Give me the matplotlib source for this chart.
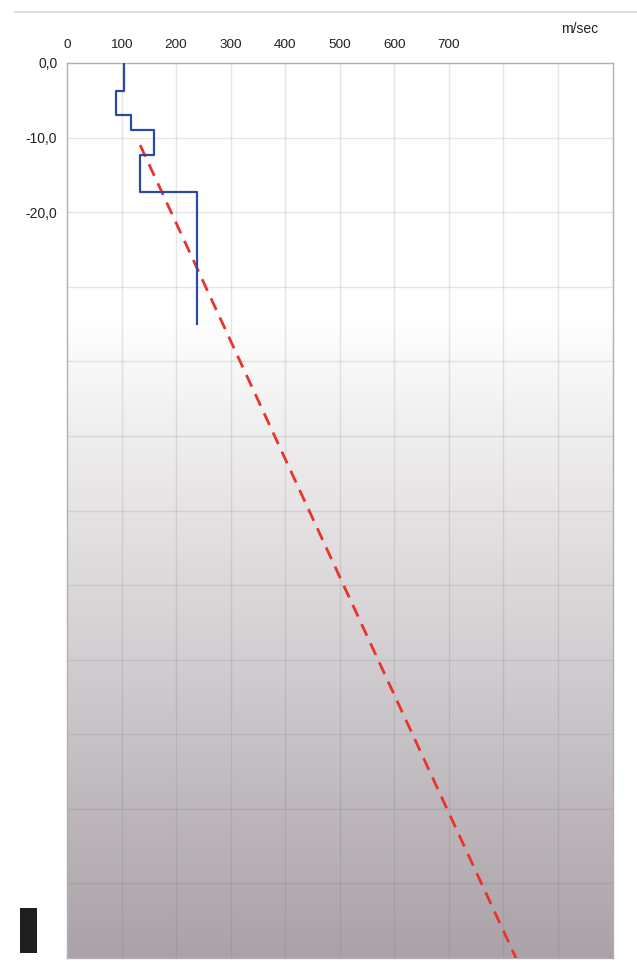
import numpy as np
import matplotlib
matplotlib.use("Agg")
import matplotlib.pyplot as plt
from matplotlib.patches import Rectangle
from matplotlib.lines import Line2D

plt.rcParams['font.family'] = ['Liberation Sans', 'DejaVu Sans']

# layered velocity profile (top of each layer, m) and shear velocity (m/sec)
layer_tops = [0.0, -3.8, -7.0, -9.0, -12.3, -17.3]
profile_bottom = -35.0
layer_vs = [104, 89, 117, 160, 134, 238]

# reference trend line
trend_depth = [-11.0, -120.0]
trend_vs = [134, 823]

x_ticks = [0, 100, 200, 300, 400, 500, 600, 700]
y_ticks = [0, -10, -20]
y_ticklabels = ["0,0", "-10,0", "-20,0"]

W, H = 637, 968
fig = plt.figure(figsize=(W / 100, H / 100), dpi=100)
ax = fig.add_axes([67 / W, 1 - 958 / H, 545.5 / W, 895 / H])

# background shading: white at the top fading to grey-mauve at depth
depth = np.linspace(0, -120, 400)
top_c = np.array([1.0, 1.0, 1.0])
bot_c = np.array([170, 162, 168]) / 255
t = np.clip((-depth - 34) / (120 - 34), 0, 1)[:, None]
grad = (top_c * (1 - t) + bot_c * t)[:, None, :]
ax.imshow(grad, extent=[0, 1000, -120, 0], aspect='auto', zorder=0,
          interpolation='bilinear')

ax.set_xlim(0, 1000)
ax.set_ylim(-120, 0)

# grid every 100 m/sec and every 10 m
grid_c = (0.42, 0.40, 0.42, 0.16)
for v in range(100, 1000, 100):
    ax.axvline(v, color=grid_c, lw=1.0, zorder=1)
for d in range(-10, -120, -10):
    ax.axhline(d, color=grid_c, lw=1.0, zorder=1)

# stepped velocity profile
bounds = layer_tops + [profile_bottom]
xs = np.repeat(layer_vs, 2)
ys = np.array([[bounds[i], bounds[i + 1]] for i in range(len(layer_vs))]).ravel()
ax.plot(xs, ys, color='#2d4aa3', lw=1.6, zorder=4)

ax.plot(trend_vs, trend_depth, color='#e8352c', lw=2.0,
        linestyle=(0, (4.6, 3.0)), zorder=3)

ax.xaxis.tick_top()
ax.set_xticks(x_ticks)
ax.set_xticklabels([str(v) for v in x_ticks])
ax.set_yticks(y_ticks)
ax.set_yticklabels(y_ticklabels)
ax.tick_params(axis='x', length=0, pad=9, labelsize=9.7, colors='#222222')
ax.tick_params(axis='y', length=0, pad=7, labelsize=10, colors='#222222')

for s in ax.spines.values():
    s.set_color('#b0b0b0')
    s.set_linewidth(1.0)

ax.text(0.94, 1 + 34 / 895, "m/sec", transform=ax.transAxes, fontsize=10,
        color='#222222', ha='center', va='center')

# outer frame line and dark mark at lower left
fig.add_artist(Line2D([15 / W, 1.0], [1 - 12 / H, 1 - 12 / H],
                      color='#d8d8d8', lw=1.2))
fig.add_artist(Rectangle((20 / W, 1 - 953 / H), 17 / W, 45 / H,
                         facecolor='#1e1e1e', edgecolor='none'))

fig.savefig("out.png", dpi=100)
plt.close(fig)
